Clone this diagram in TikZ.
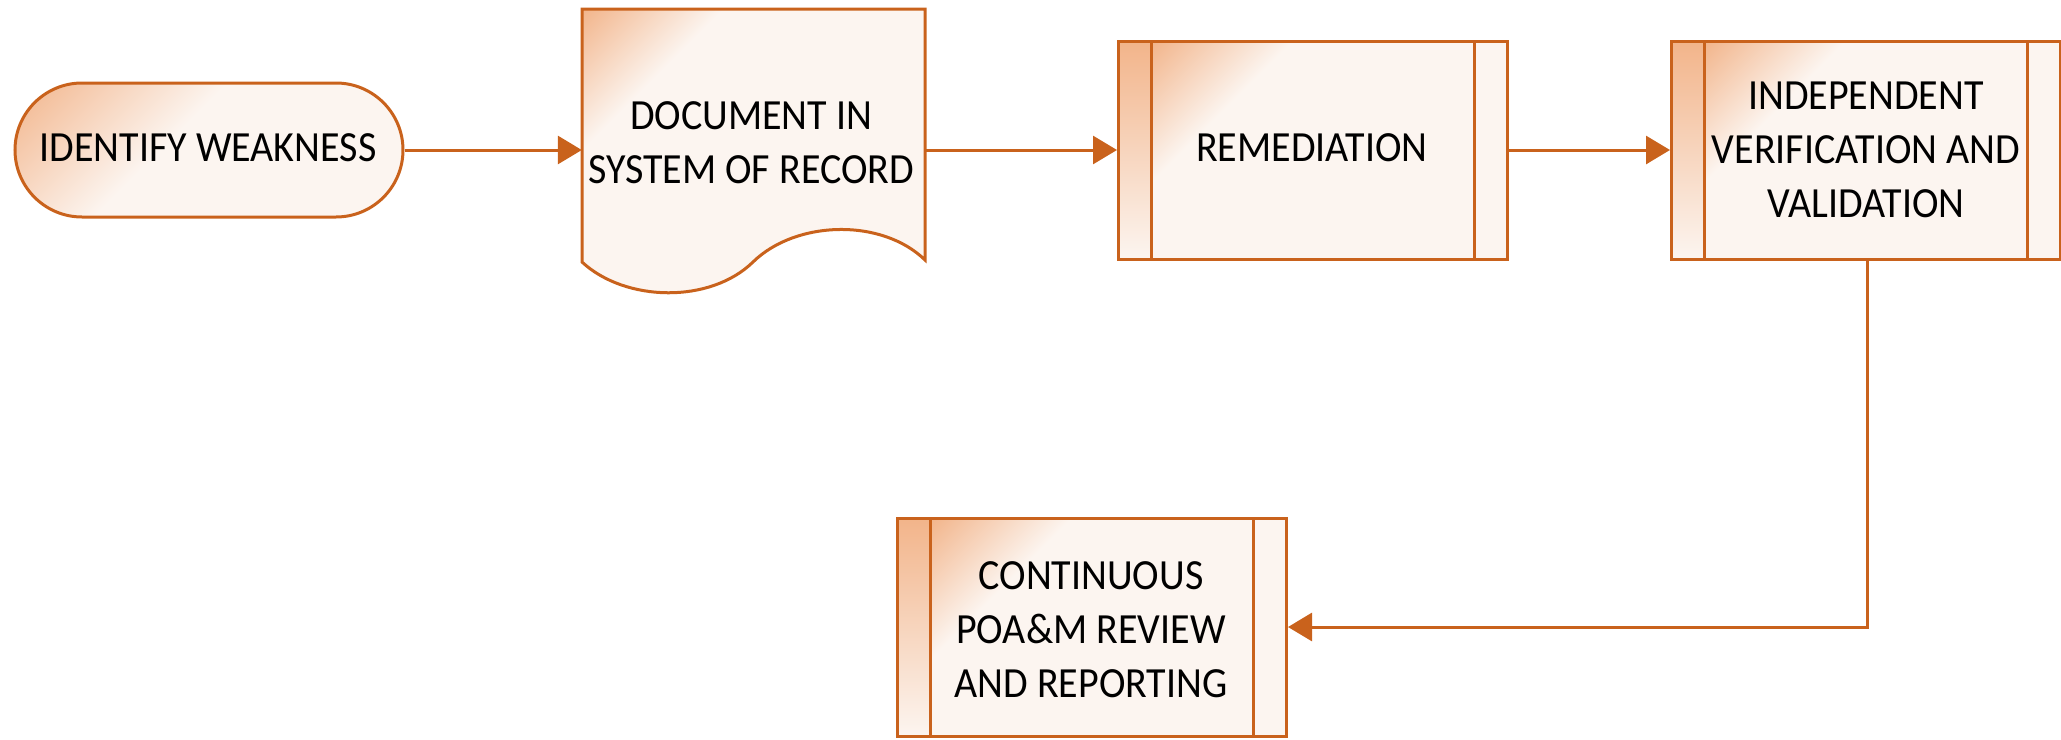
\documentclass[tikz,border=0pt]{standalone}
\usepackage{fontspec}
\setmainfont{Carlito}[FakeStretch=0.93]
\usetikzlibrary{arrows.meta,calc}
\definecolor{lineor}{HTML}{C9621C}
\definecolor{gbase}{HTML}{FCF5F0}
\definecolor{gor}{HTML}{F2B48A}
\newcommand{\mycornerfade}[2]{%
  \coordinate (cfc) at ([xshift=#1]path picture bounding box.north west);
  \begin{scope}[transform canvas={rotate around={-45:(cfc)}}]
    \shade[left color=gor, right color=gbase] ([shift={(0pt,-400pt)}]cfc) rectangle ([shift={(#2,400pt)}]cfc);
  \end{scope}}
\begin{document}
\begin{tikzpicture}[x=1pt,y=-1pt,
  lbl/.style={font=\fontsize{43}{54}\selectfont, align=center, text=black},
  flow/.style={draw=lineor, line width=3pt, -{Triangle[length=24pt,width=28pt]}},
  termbox/.style={draw=lineor, fill=gbase, line width=3pt, rounded corners=67pt, minimum width=388pt, minimum height=134pt, inner sep=0pt,
    path picture={\mycornerfade{0pt}{150pt}}},
  docshape/.style={draw=lineor, fill=gbase, line width=3pt, path picture={\mycornerfade{0pt}{100pt}}},
  procbox/.style={draw=lineor, fill=gbase, line width=3pt, minimum width=389pt, minimum height=218pt, inner sep=0pt,
    path picture={
      \mycornerfade{33pt}{100pt}
      \shade[top color=gor, bottom color=gbase] (path picture bounding box.north west) rectangle ([xshift=33pt]path picture bounding box.south west);
      \draw[lineor, line width=3pt] ([xshift=33pt]path picture bounding box.north west) -- ([xshift=33pt]path picture bounding box.south west);
      \draw[lineor, line width=3pt] ([xshift=-33pt]path picture bounding box.north east) -- ([xshift=-33pt]path picture bounding box.south east);
    }},
  ghost/.style={inner sep=0pt}
]
\useasboundingbox (0,0) rectangle (2061,739);

% terminal
\node[termbox] (term) at (209,150) {};
\node[lbl] (termtext) at (208,148) {IDENTIFY WEAKNESS};

% document shape
\path[docshape]
  (582,9) -- (925,9) -- (925,260) .. controls (882,218) and (796,220) .. (753,262)
  .. controls (710,304) and (625,302) .. (582,262) -- cycle;
\node[ghost, minimum width=343pt, minimum height=253pt] (doc) at (753.5,135.5) {};
\node[lbl] (doctext) at (751,143) {DOCUMENT IN\\SYSTEM OF RECORD};

% process boxes
\node[procbox] (rem) at (1313,150) {};
\node[lbl] (remtext) at (1312,148) {REMEDIATION};

\node[procbox] (ivv) at (1866,150) {};
\node[lbl] (ivvtext) at (1866,150) {INDEPENDENT\\VERIFICATION AND\\VALIDATION};

\node[procbox] (cont) at (1092,627) {};
\node[lbl] (conttext) at (1091,630) {CONTINUOUS\\POA\&M REVIEW\\AND REPORTING};

% connectors
\draw[flow] (term.east) -- (term.east -| doc.west);
\draw[flow] (doc.east |- rem.west) -- (rem.west);
\draw[flow] (rem.east) -- (ivv.west);
\coordinate (bend) at (1867,627);
\draw[flow] (bend |- ivv.south) -- (bend) -- (cont.east);
\end{tikzpicture}
\end{document}
